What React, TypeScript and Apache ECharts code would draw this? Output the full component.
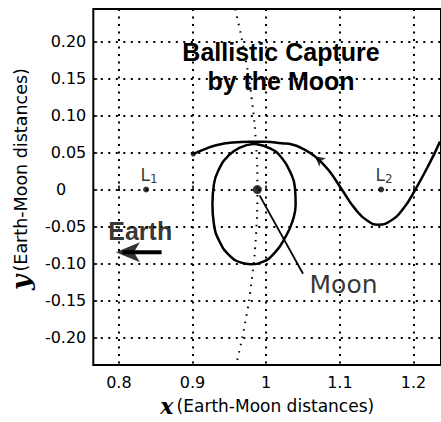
import React, { useEffect, useRef } from 'react';
import * as echarts from 'echarts';

const xTicks = [0.8, 0.9, 1.0, 1.1, 1.2];
const yTicks = [-0.2, -0.15, -0.1, -0.05, 0, 0.05, 0.1, 0.15, 0.2];

// Outer arc of the trajectory (from right edge toward the left end point)
const arcPath: [number, number][] = [
  [1.236, 0.065], [1.221, 0.034], [1.203, 0.001], [1.186, -0.026], [1.168, -0.043],
  [1.152, -0.0475], [1.137, -0.042], [1.121, -0.0265], [1.102, 0.001], [1.084, 0.027],
  [1.066, 0.045], [1.05, 0.055], [1.035, 0.061], [1.021, 0.0625], [0.999, 0.0645],
  [0.977, 0.0645], [0.955, 0.0636], [0.932, 0.06], [0.915, 0.054], [0.901, 0.048],
];

// Capture loop around the Moon
const loopPath: [number, number][] = [
  [0.984, 0.062], [0.9636, 0.0565], [0.948, 0.045], [0.937, 0.0296], [0.929, 0.007],
  [0.927, -0.02], [0.929, -0.0466], [0.937, -0.071], [0.95, -0.089], [0.966, -0.099],
  [0.979, -0.101], [0.995, -0.098], [1.012, -0.085], [1.026, -0.0645], [1.036, -0.042],
  [1.04, -0.02], [1.039, 0.003], [1.032, 0.025], [1.021, 0.043], [1.006, 0.0555],
  [0.984, 0.062],
];

// Dotted arc (Moon's orbit)
const moonOrbit: [number, number][] = [
  [0.958, 0.244], [0.9715, 0.18], [0.9807, 0.12], [0.9862, 0.06], [0.988, 0],
  [0.9862, -0.06], [0.9807, -0.12], [0.9715, -0.18], [0.959, -0.238],
];

const startPoint: [number, number] = [0.901, 0.048];
const moonPos: [number, number] = [0.988, 0];
const l1Pos: [number, number] = [0.837, 0];
const l2Pos: [number, number] = [1.156, 0];
const arrowPos: [number, number] = [1.066, 0.045];
const earthArrowShaft: [number, number][] = [[0.858, -0.085], [0.805, -0.085]];
const earthArrowHead: [number, number] = [0.796, -0.085];
const moonPointer: [number, number][] = [[0.991, -0.008], [1.05, -0.114]];
const earthLabelPos: [number, number] = [0.829, -0.056];
const moonLabelPos: [number, number] = [1.105, -0.128];

const REG = 'DejaVu Sans';
const BOLD = 'Liberation Sans';

export default function App() {
  const ref = useRef<HTMLDivElement>(null);
  useEffect(() => {
    if (!ref.current) return;
    const chart = echarts.init(ref.current, undefined, { renderer: 'svg' });
    const dotted = { type: [2, 5.5] as number[], width: 2, color: '#000' };
    chart.setOption({
      animation: false,
      backgroundColor: '#fff',
      grid: { left: 89, right: -2, top: 9, bottom: 54, show: true, borderColor: '#000', borderWidth: 2 },
      xAxis: {
        type: 'value', min: 0.7653, max: 1.2373,
        axisLine: { show: false },
        axisTick: { show: true, inside: true, length: 4, customValues: xTicks, lineStyle: { color: '#000', width: 1.5 } },
        axisLabel: {
          customValues: xTicks, margin: 9, color: '#000', fontFamily: REG, fontSize: 16,
          formatter: (v: number) => String(Math.round(v * 10) / 10),
        },
        splitLine: { show: true, lineStyle: dotted },
        name: '{v|x} {t|(Earth-Moon distances)}',
        nameLocation: 'middle', nameGap: 24,
        nameTextStyle: {
          rich: {
            v: { fontFamily: 'DejaVu Serif', fontStyle: 'italic', fontWeight: 'bold', fontSize: 22, color: '#000' },
            t: { fontFamily: REG, fontSize: 17, color: '#000' },
          },
        },
      },
      yAxis: {
        type: 'value', min: -0.2376, max: 0.2443,
        axisLine: { show: false },
        axisTick: { show: true, inside: true, length: 4, customValues: yTicks, lineStyle: { color: '#000', width: 1.5 } },
        axisLabel: {
          customValues: yTicks, margin: 7, color: '#000', fontFamily: REG, fontSize: 16,
          formatter: (v: number) => (Math.abs(v) < 1e-9 ? '{z|0}' : v.toFixed(2)),
          rich: { z: { fontFamily: REG, fontSize: 16, color: '#000', padding: [0, 20, 0, 0] } },
        },
        splitLine: { show: true, lineStyle: dotted },
        name: '{v|y} {t|(Earth-Moon distances)}',
        nameLocation: 'middle', nameGap: 55,
        nameTextStyle: {
          rich: {
            v: { fontFamily: 'DejaVu Serif', fontStyle: 'italic', fontWeight: 'bold', fontSize: 26, color: '#000', padding: [0, 0, 0, 16] },
            t: { fontFamily: REG, fontSize: 17.5, color: '#000' },
          },
        },
      },
      graphic: [
        {
          type: 'text', x: 281, y: 37, silent: true,
          style: {
            text: 'Ballistic Capture\nby the Moon', font: `bold 25px "${BOLD}"`, fill: '#000',
            textAlign: 'center', textVerticalAlign: 'top', lineHeight: 29,
          },
        },
      ],
      series: [
        {
          name: 'Moon orbit', type: 'line', data: moonOrbit, smooth: true, symbol: 'none',
          lineStyle: { color: '#000', width: 2, type: [1.5, 6] }, z: 2,
        },
        {
          name: 'Trajectory', type: 'line', data: arcPath, smooth: true, symbol: 'none',
          lineStyle: { color: '#000', width: 2.5 }, z: 3,
        },
        {
          name: 'Loop', type: 'line', data: loopPath, smooth: true, symbol: 'none',
          lineStyle: { color: '#000', width: 2.5 }, z: 3,
        },
        {
          name: 'Direction', type: 'scatter', data: [arrowPos], symbol: 'arrow', symbolSize: [8, 10],
          symbolRotate: 52, itemStyle: { color: '#000' }, z: 4,
        },
        {
          name: 'Start', type: 'scatter', data: [startPoint], symbolSize: 5, itemStyle: { color: '#000' }, z: 4,
        },
        {
          name: 'Moon', type: 'scatter', data: [moonPos], symbolSize: 9, itemStyle: { color: '#000' }, z: 4,
        },
        {
          name: 'L1', type: 'scatter', data: [l1Pos], symbolSize: 6, itemStyle: { color: '#000' }, z: 4,
          label: {
            show: true, position: 'top', distance: 2, offset: [3, 0], formatter: '{l|L}{s|1}',
            rich: {
              l: { fontFamily: REG, fontSize: 17, color: '#000', lineHeight: 20 },
              s: { fontFamily: REG, fontSize: 12, color: '#000', lineHeight: 12, verticalAlign: 'bottom' },
            },
          },
        },
        {
          name: 'L2', type: 'scatter', data: [l2Pos], symbolSize: 6, itemStyle: { color: '#000' }, z: 4,
          label: {
            show: true, position: 'top', distance: 2, offset: [3, 0], formatter: '{l|L}{s|2}',
            rich: {
              l: { fontFamily: REG, fontSize: 17, color: '#000', lineHeight: 20 },
              s: { fontFamily: REG, fontSize: 12, color: '#000', lineHeight: 12, verticalAlign: 'bottom' },
            },
          },
        },
        {
          name: 'Moon pointer', type: 'line', data: moonPointer, symbol: 'none',
          lineStyle: { color: '#000', width: 1.8 }, z: 3,
        },
        {
          name: 'Earth arrow', type: 'line', data: earthArrowShaft, symbol: 'none',
          lineStyle: { color: '#000', width: 4 }, z: 3,
        },
        {
          name: 'Earth arrow head', type: 'scatter', data: [earthArrowHead], symbol: 'arrow',
          symbolSize: [15, 24], symbolRotate: 90, itemStyle: { color: '#000' }, z: 4,
        },
        {
          name: 'Earth label', type: 'scatter', data: [earthLabelPos], symbolSize: 1,
          itemStyle: { color: 'rgba(0,0,0,0)' }, z: 5,
          label: {
            show: true, position: 'inside', formatter: 'Earth',
            fontFamily: BOLD, fontWeight: 'bold', fontSize: 25, color: '#000',
          },
        },
        {
          name: 'Moon label', type: 'scatter', data: [moonLabelPos], symbolSize: 1,
          itemStyle: { color: 'rgba(0,0,0,0)' }, z: 5,
          label: {
            show: true, position: 'inside', formatter: 'Moon',
            fontFamily: REG, fontSize: 25, color: '#000',
          },
        },
      ],
    });
    return () => chart.dispose();
  }, []);
  return <div ref={ref} style={{ width: 441, height: 422, position: 'absolute', left: 0, top: 0 }} />;
}
